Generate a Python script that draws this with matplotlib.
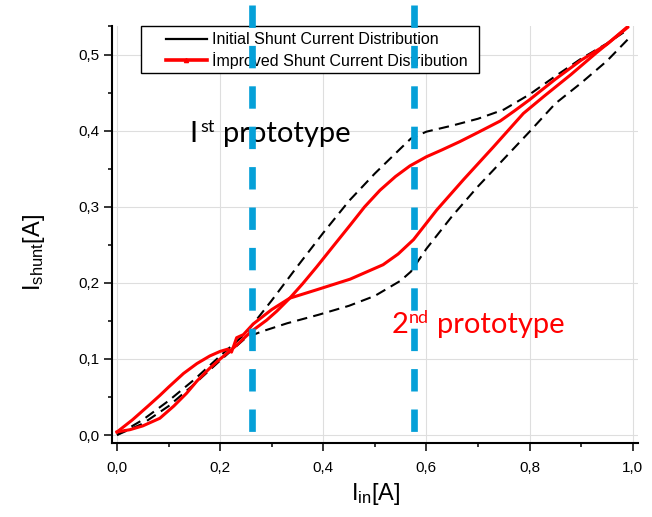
import matplotlib
matplotlib.use("Agg")
import matplotlib.pyplot as plt
from matplotlib.lines import Line2D
from matplotlib.patches import Rectangle
from matplotlib.ticker import MultipleLocator, FixedLocator, FuncFormatter

plt.rcParams['font.family'] = ['Liberation Sans', 'DejaVu Sans']
plt.rcParams['mathtext.default'] = 'regular'

# ---------------- data ----------------
black_up_x = [0.0, 0.05, 0.10, 0.15, 0.20, 0.25, 0.30, 0.35, 0.40, 0.45, 0.50, 0.55, 0.57,
              0.60, 0.65, 0.70, 0.75, 0.80, 0.85, 0.90, 0.95, 0.99]
black_up_y = [0.0, 0.020, 0.045, 0.073, 0.104, 0.134, 0.177, 0.222, 0.266, 0.308, 0.344, 0.377, 0.390,
              0.399, 0.407, 0.416, 0.428, 0.448, 0.472, 0.495, 0.515, 0.533]

black_dn_x = [0.0, 0.05, 0.10, 0.15, 0.20, 0.25, 0.28, 0.33, 0.39, 0.45, 0.50, 0.55, 0.57,
              0.60, 0.65, 0.70, 0.75, 0.80, 0.85, 0.90, 0.95, 0.99]
black_dn_y = [0.0, 0.015, 0.038, 0.067, 0.098, 0.128, 0.136, 0.147, 0.158, 0.170, 0.183, 0.203, 0.215,
              0.245, 0.288, 0.327, 0.363, 0.399, 0.436, 0.463, 0.492, 0.520]

red_a_x = [0.0, 0.03, 0.06, 0.083, 0.10, 0.129, 0.155, 0.18, 0.20, 0.215, 0.222, 0.232, 0.245,
           0.264, 0.30, 0.335, 0.387, 0.452, 0.516, 0.545, 0.575, 0.62, 0.672, 0.73, 0.788,
           0.827, 0.88, 0.93, 0.99]
red_a_y = [0.004, 0.020, 0.038, 0.052, 0.063, 0.081, 0.094, 0.104, 0.110, 0.113, 0.109, 0.128, 0.132,
           0.146, 0.165, 0.180, 0.191, 0.205, 0.224, 0.238, 0.257, 0.296, 0.336, 0.379, 0.423,
           0.445, 0.474, 0.503, 0.536]

red_b_x = [0.0, 0.025, 0.05, 0.083, 0.11, 0.135, 0.155, 0.18, 0.20, 0.23, 0.26, 0.29, 0.31,
           0.335, 0.36, 0.387, 0.42, 0.452, 0.48, 0.51, 0.54, 0.568, 0.60, 0.63, 0.665, 0.70,
           0.743, 0.77, 0.80, 0.85, 0.90, 0.95, 0.99]
red_b_y = [0.004, 0.007, 0.012, 0.022, 0.038, 0.055, 0.071, 0.088, 0.100, 0.117, 0.136, 0.151, 0.163,
           0.180, 0.199, 0.221, 0.249, 0.276, 0.300, 0.322, 0.340, 0.354, 0.366, 0.375, 0.386, 0.398,
           0.413, 0.426, 0.441, 0.468, 0.493, 0.514, 0.537]

prototype_x = [0.262, 0.575]
legend_labels = ['Initial Shunt Current Distribution', 'İmproved Shunt Current Distribution']

# ---------------- figure ----------------
W, H = 652, 517
fig = plt.figure(figsize=(W / 100, H / 100), dpi=100)
ax = fig.add_axes([111.8 / W, 1 - 443 / H, (637.9 - 111.8) / W, (443 - 26) / H])
ax.set_xlim(-0.0101, 1.0101)
ax.set_ylim(-0.0105, 0.538)

for s in ['top', 'right']:
    ax.spines[s].set_visible(False)
for s in ['left', 'bottom']:
    ax.spines[s].set_linewidth(1.5)

ax.xaxis.set_major_locator(MultipleLocator(0.2))
ax.xaxis.set_minor_locator(MultipleLocator(0.1))
ax.yaxis.set_major_locator(MultipleLocator(0.1))
ax.yaxis.set_minor_locator(FixedLocator([0.05, 0.15, 0.25, 0.35, 0.45, 0.5379]))
fmt = FuncFormatter(lambda v, p: f"{v:.1f}".replace('.', ','))
ax.xaxis.set_major_formatter(fmt)
ax.yaxis.set_major_formatter(fmt)
ax.tick_params(which='major', direction='out', length=6, width=1.1, labelsize=11)
ax.tick_params(axis='x', which='major', pad=7)
ax.tick_params(axis='y', which='major', pad=3)
ax.tick_params(which='minor', direction='out', length=3, width=1.1)
ax.grid(True, which='major', color='#dedede', linewidth=0.8, zorder=0)
ax.set_axisbelow(True)

ax.plot(black_up_x, black_up_y, color='black', lw=1.5, dashes=(5, 3), zorder=3)
ax.plot(black_dn_x, black_dn_y, color='black', lw=1.5, dashes=(5, 3), zorder=3)
ax.plot(red_a_x, red_a_y, color='#ff0000', lw=2.2, zorder=3)
ax.plot(red_b_x, red_b_y, color='#ff0000', lw=2.2, zorder=3)

for xv in prototype_x:
    ax.plot([xv, xv], [0.566, -0.003], color='#05a0d8', lw=4.8, dashes=(3.36, 2.7),
            solid_capstyle='butt', dash_capstyle='butt', clip_on=False, zorder=7)

# legend frame + entries
ax.add_patch(Rectangle((141 / W, 1 - 73 / H), 338 / W, 47 / H, transform=fig.transFigure,
                       facecolor='white', edgecolor='black', lw=1.0, clip_on=False, zorder=4))
handles = [Line2D([], [], color='black', lw=1.6),
           Line2D([], [], color='#ff0000', lw=2.6, marker='^', markersize=3)]
leg = ax.legend(handles, legend_labels, loc='center left',
                bbox_to_anchor=(166 / W, 1 - 50.5 / H), bbox_transform=fig.transFigure,
                frameon=False, fontsize=11.5, borderpad=0, borderaxespad=0,
                handlelength=2.56, handletextpad=0.3, labelspacing=0.3)
leg.set_zorder(5)

# annotations
ax.text(0.140, 0.3855, 'I', fontsize=21, family='Lato', va='baseline', color='black')
ax.text(0.161, 0.399, 'st', fontsize=13, family='Lato', va='baseline', color='black')
ax.text(0.206, 0.3855, 'prototype', fontsize=21, family='Lato', va='baseline', color='black')
ax.text(0.533, 0.134, '2', fontsize=21, family='Lato', va='baseline', color='#ff0000')
ax.text(0.566, 0.147, 'nd', fontsize=13, family='Lato', va='baseline', color='#ff0000')
ax.text(0.6205, 0.134, 'prototype', fontsize=21, family='Lato', va='baseline', color='#ff0000')

# axis labels
fig.text(34 / W, 1 - 252 / H, r'$\mathregular{I_{shunt}[A]}$', rotation=90, ha='center',
         va='center', fontsize=17)
fig.text(376 / W, 1 - 500 / H, r'$\mathregular{I_{in}[A]}$', ha='center', va='baseline',
         fontsize=17)

fig.savefig('out.png', dpi=100)
